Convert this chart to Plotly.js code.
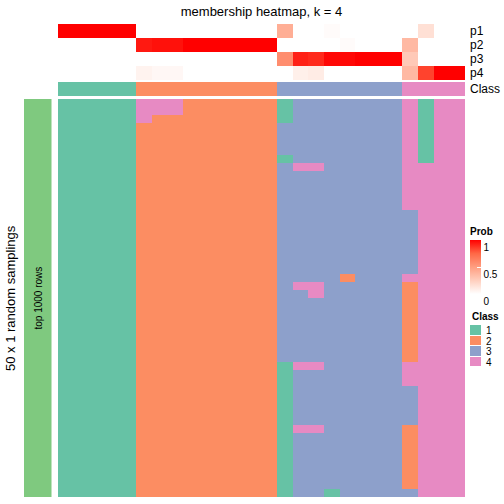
<!DOCTYPE html>
<html><head><meta charset="utf-8">
<script src="https://cdn.plot.ly/plotly-3.0.1.min.js"></script>
<style>body{margin:0;background:#fff}</style>
</head><body>
<div id="chart" style="width:504px;height:504px"></div>
<script>
// ---- data ----
const titleText = "membership heatmap, k = 4";
const memberRows = ["p1", "p2", "p3", "p4"];
const p1 = [1,1,1,1,1, 0,0,0,0,0,0,0,0,0, 0.42,0,0,0.02,0,0,0,0, 0,0.16,0,0];
const p2 = [0,0,0,0,0, 0.94,0.96,0.96,1,1,1,1,1,1, 0,0,0,0,0.02,0,0,0, 0.36,0,0,0];
const p3 = [0,0,0,0,0, 0,0,0,0,0,0,0,0,0, 0.58,0.92,0.90,0.98,0.98,1,1,1, 0.28,0,0,0];
const p4 = [0,0,0,0,0, 0.06,0.04,0.04,0,0,0,0,0,0, 0,0.08,0.10,0,0,0,0,0, 0.36,0.84,1,1];
const sampleClass = [1,1,1,1,1, 2,2,2,2,2,2,2,2,2, 3,3,3,3,3,3,3,3, 4,4,4,4];
// main heatmap: per column, runs of [class, number of rows] from top to bottom (50 samplings)
const columnRuns = [
  [[1,50]],[[1,50]],[[1,50]],[[1,50]],[[1,50]],
  [[4,3],[2,47]],
  [[4,2],[2,48]],
  [[4,2],[2,48]],
  [[2,50]],[[2,50]],[[2,50]],[[2,50]],[[2,50]],[[2,50]],
  [[1,3],[3,4],[1,1],[3,25],[1,17]],
  [[3,8],[4,1],[3,14],[4,1],[3,9],[4,1],[3,7],[4,1],[3,8]],
  [[3,8],[4,1],[3,14],[4,2],[3,8],[4,1],[3,7],[4,1],[3,8]],
  [[3,49],[1,1]],
  [[3,22],[2,1],[3,27]],
  [[3,50]],[[3,50]],[[3,50]],
  [[4,14],[3,8],[4,1],[2,10],[4,3],[3,5],[2,8],[3,1]],
  [[1,8],[4,42]],
  [[4,50]],[[4,50]]
];
const classLabels = ["1", "2", "3", "4"];
const classColors = ["#66C2A5", "#FC8D62", "#8DA0CB", "#E78AC3"];
const probTicks = [0, 0.5, 1];
const probTickText = ["0", "0.5", "1"];
const leftLabel = "50 x 1 random samplings";
const barLabel = "top 1000 rows";

// ---- build ----
const W = 504, H = 504;
const px = v => v / W;
const py = v => 1 - v / H;
const nCols = sampleClass.length;
const colIdx = sampleClass.map((_, i) => i);

const mainZ = [];
columnRuns.forEach((runs, c) => {
  let r = 0;
  runs.forEach(([cls, n]) => {
    for (let k = 0; k < n; k++) {
      if (!mainZ[r]) mainZ[r] = [];
      mainZ[r][c] = cls;
      r++;
    }
  });
});
const nRows = mainZ.length;

const classScale = [];
classColors.forEach((c, i) => {
  classScale.push([i / 4, c]);
  classScale.push([(i + 1) / 4, c]);
});
const probScale = [[0, "#FFFFFF"], [0.25, "rgb(255,207,190)"], [0.5, "rgb(255,158,129)"], [0.75, "rgb(255,104,70)"], [1, "#FF0000"]];

const font = "Liberation Sans, Arial, sans-serif";

const traces = [
  { type: "heatmap", xaxis: "x", yaxis: "y", z: mainZ, x: colIdx,
    colorscale: classScale, zmin: 0.5, zmax: 4.5, showscale: false, hoverinfo: "skip" },
  { type: "heatmap", xaxis: "x", yaxis: "y2", z: [p1, p2, p3, p4], x: colIdx, y: memberRows.map((_, i) => i),
    colorscale: probScale, zmin: 0, zmax: 1, hoverinfo: "skip", showscale: true,
    colorbar: { x: px(470), xanchor: "left", y: py(294), yanchor: "bottom",
      len: 70, lenmode: "pixels", thickness: 11, thicknessmode: "pixels",
      outlinewidth: 0, xpad: 0, ypad: 0,
      tickvals: probTicks, ticktext: probTickText, ticks: "inside", ticklen: 4, tickcolor: "#FFFFFF",
      ticklabelposition: "outside bottom",
      tickfont: { family: font, size: 10, color: "#000" },
      title: { text: "<b>Prob</b>", side: "top", font: { family: font, size: 10, color: "#000" } } } },
  { type: "heatmap", xaxis: "x", yaxis: "y3", z: [sampleClass], x: colIdx,
    colorscale: classScale, zmin: 0.5, zmax: 4.5, showscale: false, hoverinfo: "skip" },
  { type: "heatmap", xaxis: "x2", yaxis: "y4", z: [[1]],
    colorscale: [[0, "#7FC97F"], [1, "#7FC97F"]], showscale: false, hoverinfo: "skip" },
  { type: "heatmap", xaxis: "x3", yaxis: "y5", z: classLabels.map((_, i) => [i + 1]),
    colorscale: classScale, zmin: 0.5, zmax: 4.5, showscale: false, ygap: 1, hoverinfo: "skip" }
];

const hid = { visible: false, showgrid: false, zeroline: false, fixedrange: true };
const annotations = [];
memberRows.forEach((lab, i) => {
  annotations.push({ text: lab, xref: "paper", yref: "paper", x: px(468), y: py(31 + 14 * i),
    xanchor: "left", yanchor: "middle", showarrow: false, font: { family: font, size: 12, color: "#000" } });
});
annotations.push({ text: "Class", xref: "paper", yref: "paper", x: px(468), y: py(89),
  xanchor: "left", yanchor: "middle", showarrow: false, font: { family: font, size: 12, color: "#000" } });
annotations.push({ text: "<b>Class</b>", xref: "paper", yref: "paper", x: px(470), y: py(316),
  xanchor: "left", yanchor: "middle", showarrow: false, font: { family: font, size: 10, color: "#000" } });
classLabels.forEach((lab, i) => {
  annotations.push({ text: lab, xref: "paper", yref: "paper", x: px(484), y: py(330.5 + 10.5 * i),
    xanchor: "left", yanchor: "middle", showarrow: false, font: { family: font, size: 10, color: "#000" } });
});
annotations.push({ text: leftLabel, xref: "paper", yref: "paper", x: px(10), y: py(298),
  xanchor: "center", yanchor: "middle", textangle: -90, showarrow: false, font: { family: font, size: 13, color: "#000" } });
annotations.push({ text: barLabel, xref: "paper", yref: "paper", x: px(37.5), y: py(298),
  xanchor: "center", yanchor: "middle", textangle: -90, showarrow: false, font: { family: font, size: 10, color: "#000" } });

const layout = {
  width: W, height: H, margin: { l: 0, r: 0, t: 0, b: 0 },
  paper_bgcolor: "#fff", plot_bgcolor: "#fff", showlegend: false,
  title: { text: titleText, x: px(261.5), xanchor: "center", y: py(11), yanchor: "middle",
    font: { family: font, size: 13, color: "#000" } },
  xaxis: Object.assign({}, hid, { domain: [px(58), px(465)], range: [-0.5, nCols - 0.5], anchor: "y" }),
  yaxis: Object.assign({}, hid, { domain: [py(497), py(99)], range: [nRows - 0.5, -0.5], anchor: "x" }),
  yaxis2: Object.assign({}, hid, { domain: [py(80), py(24)], range: [3.5, -0.5], anchor: "x" }),
  yaxis3: Object.assign({}, hid, { domain: [py(96), py(82)], range: [0.5, -0.5], anchor: "x" }),
  xaxis2: Object.assign({}, hid, { domain: [px(24), px(51.5)], range: [-0.5, 0.5], anchor: "y4" }),
  yaxis4: Object.assign({}, hid, { domain: [py(497), py(99)], range: [0.5, -0.5], anchor: "x2" }),
  xaxis3: Object.assign({}, hid, { domain: [px(470), px(481)], range: [-0.5, 0.5], anchor: "y5" }),
  yaxis5: Object.assign({}, hid, { domain: [py(367), py(325)], range: [3.5, -0.5], anchor: "x3" }),
  annotations: annotations
};

Plotly.newPlot("chart", traces, layout, { staticPlot: true, displayModeBar: false });
</script>
</body></html>
